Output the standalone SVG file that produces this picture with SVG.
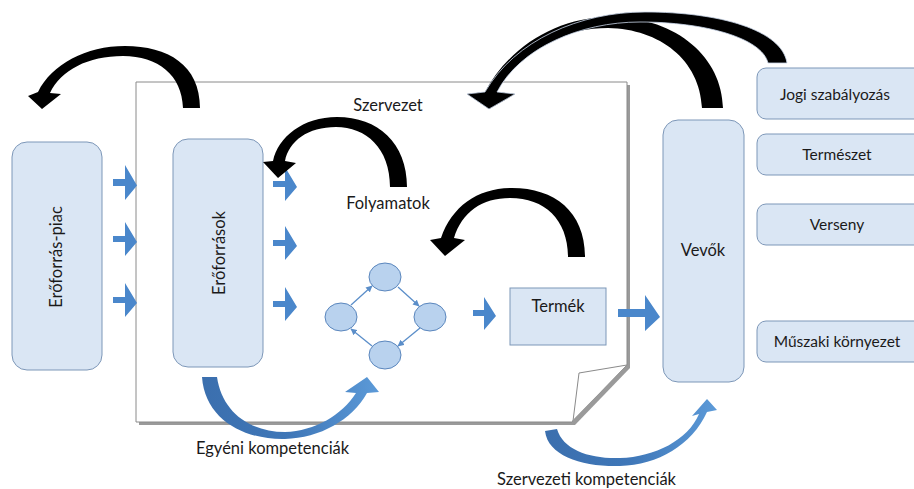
<svg xmlns="http://www.w3.org/2000/svg" width="914" height="489" viewBox="0 0 914 489">
<defs>
<style>
.box{fill:#dae6f4;stroke:#7d97b8;stroke-width:1}
.t{font-family:Lato,"Open Sans","Liberation Sans",sans-serif;fill:#1a1a1a;font-size:16.5px}
.r{font-size:15.5px}
.blk{fill:#000}
.ba{fill:#4a87cb}
.circ{fill:#b9d2ee;stroke:#5a86bd;stroke-width:1}
.cl{stroke:#5b8ec9;stroke-width:1.3;fill:none;marker-end:url(#m)}
</style>
<marker id="m" viewBox="0 0 10 10" refX="9" refY="5" markerWidth="5" markerHeight="5" orient="auto">
<path d="M0,0 L10,5 L0,10 Z" fill="#5b8ec9"/>
</marker>
<linearGradient id="bg" x1="0" y1="0" x2="1" y2="0">
<stop offset="0" stop-color="#3b6fae"/>
<stop offset="0.5" stop-color="#3f77b8"/>
<stop offset="1" stop-color="#5c9ad8"/>
</linearGradient>
</defs>

<g id="szervezet">
<path d="M139,85 H630 V368 L575,425 H139 Z" fill="#9a9a9a"/>
<path d="M136,82 H627 V365 L572,422 H136 Z" fill="#fff" stroke="#8a8a8a" stroke-width="1"/>
<path d="M627,365 L579,373 L573,421 Z" fill="#fff" stroke="#8a8a8a" stroke-width="1"/>
<line x1="573" y1="422" x2="628" y2="366" stroke="#9a9a9a" stroke-width="3"/>
<text class="t" x="388" y="111" text-anchor="middle" font-size="18.5">Szervezet</text>
<text class="t" x="388" y="209" text-anchor="middle">Folyamatok</text>
</g>

<g id="eroforras-piac">
<rect class="box" x="12" y="142" width="90" height="228" rx="15"/>
<text class="t" transform="translate(62,257) rotate(-90)" text-anchor="middle">Erőforrás-piac</text>
</g>

<g id="eroforrasok">
<rect class="box" x="173" y="139" width="90" height="228" rx="15"/>
<text class="t" transform="translate(225,253) rotate(-90)" text-anchor="middle">Erőforrások</text>
</g>

<g id="folyamat-kor">
<ellipse class="circ" cx="385" cy="277" rx="16" ry="14"/>
<ellipse class="circ" cx="341" cy="317" rx="16" ry="14"/>
<ellipse class="circ" cx="430" cy="317" rx="16" ry="14"/>
<ellipse class="circ" cx="385" cy="355" rx="16" ry="14"/>
</g>

<g id="termek">
<rect x="510" y="288" width="96" height="57" fill="#dae6f4" stroke="#7d97b8"/>
<text class="t" x="558" y="312" text-anchor="middle" font-size="16">Termék</text>
</g>

<g id="vevok">
<rect class="box" x="663" y="120" width="81" height="262" rx="15"/>
<text class="t" x="703" y="256" text-anchor="middle">Vevők</text>
</g>

<g id="jogi">
<rect class="box" x="757" y="68" width="170" height="51" rx="9"/>
<text class="t r" x="835" y="100" text-anchor="middle">Jogi szabályozás</text>
</g>
<g id="termeszet">
<rect class="box" x="757" y="134" width="170" height="41" rx="9"/>
<text class="t r" x="837" y="160" text-anchor="middle">Természet</text>
</g>
<g id="verseny">
<rect class="box" x="757" y="204" width="170" height="41" rx="9"/>
<text class="t r" x="837" y="230" text-anchor="middle">Verseny</text>
</g>
<g id="muszaki">
<rect class="box" x="757" y="321" width="170" height="41" rx="9"/>
<text class="t r" x="837" y="347" text-anchor="middle">Műszaki környezet</text>
</g>

<g id="connectors">
<path class="ba" d="M113,179 h12 v-14 l12,20.5 l-12,14.5 v-14 h-12 Z"/>
<path class="ba" d="M113,236 h12 v-14 l12,20 l-12,14 v-14 h-12 Z"/>
<path class="ba" d="M113,297 h12 v-14 l12,20 l-12,14 v-14 h-12 Z"/>
<path class="ba" d="M273,181 h12 v-14 l12,20 l-12,14 v-14 h-12 Z"/>
<path class="ba" d="M273,240 h12 v-14 l12,20 l-12,14 v-14 h-12 Z"/>
<path class="ba" d="M273,301 h12 v-14 l12,20 l-12,14 v-14 h-12 Z"/>
<path class="ba" d="M473,310 h11 v-13 l12,19 l-12,14 v-14 h-11 Z"/>
<path class="ba" d="M618,309 h27 v-14 l15,22 l-15,14 v-14 h-27 Z"/>

<line class="cl" x1="351" y1="305" x2="372" y2="286"/>
<line class="cl" x1="398" y1="287" x2="419" y2="306"/>
<line class="cl" x1="420" y1="328" x2="398" y2="346"/>
<line class="cl" x1="372" y1="346" x2="351" y2="329"/>

<path class="blk" d="M200,108 C200,65 168,46 125,46 C86,46 52,64 38,92 L28,96 L42,109 L61,94 L50,93 C61,70 88,56 123,56 C158,56 182,75 183,108 Z"/>
<path class="blk" d="M407,187 C407,143 378,117 337,117 C303,117 278,137 273,161 L263,162 L278,178 L296,163 L285,161 C289,141 308,127 336,127 C366,127 390,148 390,187 Z"/>
<path class="blk" d="M585,257 C585,212 555,188 512,188 C478,188 452,206 441,238 L430,240 L445,256 L465,240 L454,238 C462,212 482,198 510,198 C545,198 568,220 568,257 Z"/>
<path class="blk" d="M723,108 C722,58 678,18 612,17 C560,16 510,45 485,92 L467,94 L489,109 L515,94 L497,92 C518,52 560,28 608,28 C660,29 700,60 702,108 Z"/>
<path class="blk" d="M787,63 C782,30 720,12 645,12 C580,12 515,40 485,92 L467,94 L489,109 L515,94 L497,92 C520,48 580,22 640,22 C705,22 762,38 768,63 Z" stroke="#c9d6e8" stroke-width="0.8"/>

<path fill="url(#bg)" d="M202,377 C205,420 245,440 285,439 C320,438 352,420 367,393 L379,392 L367,377 L345,392 L356,393 C342,415 315,431 285,432 C250,432 222,412 217,377 Z"/>
<path fill="url(#bg)" d="M545,431 C548,456 582,467 620,466 C658,465 692,445 707,412 L717,410 L707,399 L692,416 L699,414 C688,440 655,457 620,458 C590,459 563,450 557,429 Z"/>
</g>

<text class="t" x="196" y="454">Egyéni kompetenciák</text>
<text class="t" x="497" y="485">Szervezeti kompetenciák</text>
</svg>
